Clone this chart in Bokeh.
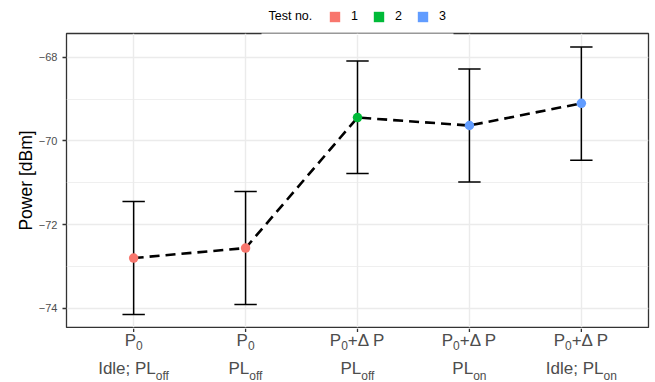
from bokeh.plotting import figure
from bokeh.models import (FixedTicker, Legend, LegendItem, Range1d, ColumnDataSource,
                          BoxAnnotation)
from bokeh.layouts import column
from bokeh.core.properties import value
from bokeh.embed import file_html
from bokeh.resources import INLINE

# ---------------- data ----------------
conditions = [1, 2, 3, 4, 5]
power = [-72.80, -72.56, -69.44, -69.63, -69.10]
upper = [-71.45, -71.21, -68.09, -68.28, -67.75]
lower = [-74.15, -73.91, -70.78, -70.98, -70.46]
test_no = ["1", "1", "2", "3", "3"]
test_levels = ["1", "2", "3"]
test_colors = ["#F8766D", "#00BA38", "#619CFF"]
legend_title = "Test no."

y_ticks = [-74, -72, -70, -68]
y_tick_labels = ["\u221274", "\u221272", "\u221270", "\u221268"]
y_minor = [-73, -71, -69]

# tick label pieces: (text, is_subscript)
label_line1 = [
    [("P", 0), ("0", 1)],
    [("P", 0), ("0", 1)],
    [("P", 0), ("0", 1), ("+\u0394 P", 0)],
    [("P", 0), ("0", 1), ("+\u0394 P", 0)],
    [("P", 0), ("0", 1), ("+\u0394 P", 0)],
]
label_line2 = [
    [("Idle; PL", 0), ("off", 1)],
    [("PL", 0), ("off", 1)],
    [("PL", 0), ("off", 1)],
    [("PL", 0), ("on", 1)],
    [("Idle; PL", 0), ("on", 1)],
]

FONT = "Liberation Sans"
W_TOTAL, LEFT, RIGHT = 655, 66, 7
HEAD_H, MAIN_H = 32, 296
STRIP_H = 382 - HEAD_H - MAIN_H
NAN = float("nan")

# ---------------- header with legend ----------------
head = figure(width=W_TOTAL, height=HEAD_H, output_backend="svg", toolbar_location=None,
              title=None, x_range=Range1d(LEFT, W_TOTAL - RIGHT), y_range=Range1d(HEAD_H, 0),
              min_border_left=LEFT, min_border_right=RIGHT, min_border_top=0, min_border_bottom=0)
head.axis.visible = False
head.grid.visible = False
head.outline_line_color = None
head.background_fill_color = "white"
head.border_fill_color = "white"
head.text(x=[268], y=[15.5], text=[legend_title], text_font=value(FONT), text_font_size="12.5px",
          text_color="black", text_align="left", text_baseline="middle")
items = []
for lev, col in zip(test_levels, test_colors):
    r = head.quad(left=[NAN], right=[NAN], top=[NAN], bottom=[NAN], fill_color=col, line_color=None)
    items.append(LegendItem(label=lev, renderers=[r]))
legend = Legend(items=items, location=(262, 9), orientation="horizontal",
                label_text_font=FONT, label_text_font_size="12.5px", label_text_color="black",
                glyph_width=13, glyph_height=13, label_height=13, label_width=20,
                label_standoff=10, spacing=1, padding=0, margin=0,
                border_line_color=None, background_fill_color="white", background_fill_alpha=1.0)
head.add_layout(legend, "center")

# ---------------- main panel ----------------
p = figure(width=W_TOTAL, height=MAIN_H, output_backend="svg", toolbar_location=None,
           title=None, x_range=Range1d(0.4, 5.6), y_range=Range1d(-74.46, -67.43),
           min_border_left=LEFT, min_border_right=RIGHT, min_border_top=1, min_border_bottom=1)
p.background_fill_color = "white"
p.border_fill_color = "white"
p.outline_line_color = "#333333"
p.outline_line_width = 1.3
p.xaxis.visible = False

# grids
p.xgrid.ticker = FixedTicker(ticks=conditions)
p.xgrid.grid_line_color = "#EBEBEB"
p.xgrid.grid_line_width = 1.4
p.ygrid.ticker = FixedTicker(ticks=y_ticks, minor_ticks=y_minor)
p.ygrid.grid_line_color = "#EBEBEB"
p.ygrid.grid_line_width = 1.4
p.ygrid.minor_grid_line_color = "#EBEBEB"
p.ygrid.minor_grid_line_width = 0.8

# y axis
p.yaxis.ticker = FixedTicker(ticks=y_ticks, minor_ticks=y_minor)
p.yaxis.major_label_overrides = {t: s for t, s in zip(y_ticks, y_tick_labels)}
p.yaxis.axis_line_color = None
p.yaxis.major_tick_line_color = "#333333"
p.yaxis.major_tick_line_width = 1.3
p.yaxis.major_tick_out = 4
p.yaxis.major_tick_in = 0
p.yaxis.minor_tick_line_color = None
p.yaxis.major_label_text_font = FONT
p.yaxis.major_label_text_font_size = "11px"
p.yaxis.major_label_text_color = "#4D4D4D"
p.yaxis.major_label_standoff = 5
p.yaxis.axis_label = "Power [dBm]"
p.yaxis.axis_label_text_font = FONT
p.yaxis.axis_label_text_font_size = "17.5px"
p.yaxis.axis_label_text_font_style = "normal"
p.yaxis.axis_label_text_color = "black"
p.yaxis.axis_label_standoff = 0

# error bars
src = ColumnDataSource(dict(x=conditions, y=power, upper=upper, lower=lower, test=test_no,
                            xl=[c - 0.1 for c in conditions], xr=[c + 0.1 for c in conditions],
                            color=[test_colors[test_levels.index(t)] for t in test_no]))
p.segment(x0="x", y0="lower", x1="x", y1="upper", source=src, line_color="black", line_width=1.5)
p.segment(x0="xl", y0="upper", x1="xr", y1="upper", source=src, line_color="black", line_width=1.5)
p.segment(x0="xl", y0="lower", x1="xr", y1="lower", source=src, line_color="black", line_width=1.5)

# dashed line
p.line(x="x", y="y", source=src, line_color="black", line_width=2.6, line_dash="10 6")

# points
p.scatter(x="x", y="y", source=src, marker="circle", size=9.5, fill_color="color", line_color=None)

# legend background continues over the panel's top border
p.add_layout(BoxAnnotation(left=195, right=387, top_units="screen", bottom_units="screen",
                           left_units="screen", right_units="screen",
                           top=400, bottom=292.6, fill_color="white", fill_alpha=1.0,
                           line_color=None, level="overlay"))

# ---------------- x axis strip: ticks + labels (with subscripts) ----------------
W = {' ': 278, ';': 278, '+': 584, '0': 556, 'I': 278, 'L': 556, 'P': 667, 'd': 556,
     'e': 556, 'f': 278, 'l': 222, 'n': 556, 'o': 556, '\u0394': 668}
MAIN, SUB = 17.0, 12.0
ROW_MID = [12.0, 40.3]       # vertical middle of each row, px below strip top
SUB_SHIFT = [5.0, 7.2]

lx, ly, lt, lo, lf = [], [], [], [], []
for c, l1, l2 in zip(conditions, label_line1, label_line2):
    for row, pieces in enumerate((l1, l2)):
        widths = [sum(W.get(ch, 556) for ch in t) / 1000.0 * (SUB if s else MAIN) for t, s in pieces]
        off = -sum(widths) / 2.0
        for (t, s), w in zip(pieces, widths):
            lx.append(c)
            ly.append(ROW_MID[row] + (SUB_SHIFT[row] if s else 0))
            lt.append(t)
            lo.append(off)
            lf.append(f"{SUB if s else MAIN}px")
            off += w

strip = figure(width=W_TOTAL, height=STRIP_H, output_backend="svg", toolbar_location=None,
               title=None, x_range=p.x_range, y_range=Range1d(STRIP_H, 0),
               min_border_left=LEFT, min_border_right=RIGHT, min_border_top=0, min_border_bottom=0)
strip.axis.visible = False
strip.grid.visible = False
strip.outline_line_color = None
strip.background_fill_color = "white"
strip.border_fill_color = "white"
# x tick marks at the category positions
strip.segment(x0=conditions, x1=conditions, y0=[0] * len(conditions), y1=[3.5] * len(conditions),
              line_color="#333333", line_width=1.3)
strip.text(x="x", y="y", text="text", x_offset="xo", text_font_size="fs",
           source=ColumnDataSource(dict(x=lx, y=ly, text=lt, xo=lo, fs=lf)),
           text_font=value(FONT), text_color="#4D4D4D", text_align="left",
           text_baseline="middle")

layout = column(head, p, strip, spacing=0)
open("out.html", "w").write(file_html(layout, INLINE))
